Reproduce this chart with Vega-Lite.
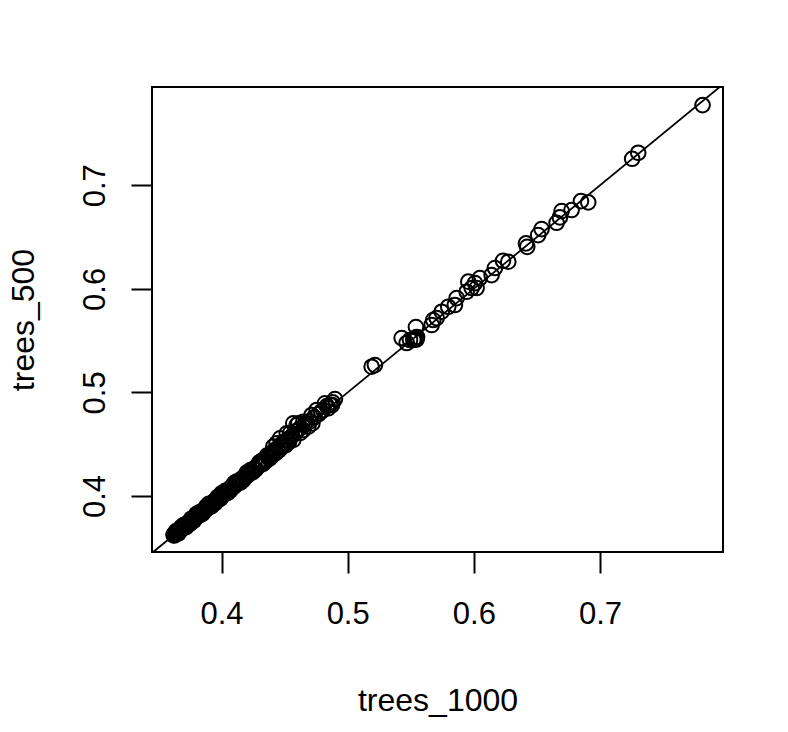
{
  "$schema": "https://vega.github.io/schema/vega-lite/v6.json",
  "width": 571,
  "height": 465,
  "autosize": {"type": "none"},
  "padding": {"left": 152, "top": 87, "right": 65, "bottom": 180},
  "background": "white",
  "config": {
    "view": {"stroke": "black", "strokeWidth": 2},
    "axis": {
      "domain": false, "grid": false,
      "tickColor": "black", "tickWidth": 2, "tickSize": 21,
      "labelFont": "Liberation Sans", "labelFontSize": 31, "labelColor": "black",
      "titleFont": "Liberation Sans", "titleFontSize": 32, "titleFontWeight": "normal", "titleColor": "black"
    }
  },
  "datasets": {
    "pts": [
      {"trees_1000": 0.3620, "trees_500": 0.3622},
      {"trees_1000": 0.3622, "trees_500": 0.3630},
      {"trees_1000": 0.3625, "trees_500": 0.3618},
      {"trees_1000": 0.3628, "trees_500": 0.3635},
      {"trees_1000": 0.3630, "trees_500": 0.3626},
      {"trees_1000": 0.3633, "trees_500": 0.3640},
      {"trees_1000": 0.3636, "trees_500": 0.3630},
      {"trees_1000": 0.3640, "trees_500": 0.3645},
      {"trees_1000": 0.3643, "trees_500": 0.3638},
      {"trees_1000": 0.3647, "trees_500": 0.3652},
      {"trees_1000": 0.3650, "trees_500": 0.3644},
      {"trees_1000": 0.3654, "trees_500": 0.3660},
      {"trees_1000": 0.3658, "trees_500": 0.3650},
      {"trees_1000": 0.3662, "trees_500": 0.3668},
      {"trees_1000": 0.3666, "trees_500": 0.3660},
      {"trees_1000": 0.3670, "trees_500": 0.3676},
      {"trees_1000": 0.3674, "trees_500": 0.3668},
      {"trees_1000": 0.3678, "trees_500": 0.3686},
      {"trees_1000": 0.3682, "trees_500": 0.3676},
      {"trees_1000": 0.3686, "trees_500": 0.3694},
      {"trees_1000": 0.3690, "trees_500": 0.3684},
      {"trees_1000": 0.3695, "trees_500": 0.3702},
      {"trees_1000": 0.3700, "trees_500": 0.3694},
      {"trees_1000": 0.3705, "trees_500": 0.3712},
      {"trees_1000": 0.3710, "trees_500": 0.3704},
      {"trees_1000": 0.3715, "trees_500": 0.3722},
      {"trees_1000": 0.3720, "trees_500": 0.3712},
      {"trees_1000": 0.3725, "trees_500": 0.3732},
      {"trees_1000": 0.3730, "trees_500": 0.3722},
      {"trees_1000": 0.3735, "trees_500": 0.3742},
      {"trees_1000": 0.3740, "trees_500": 0.3732},
      {"trees_1000": 0.3745, "trees_500": 0.3752},
      {"trees_1000": 0.3750, "trees_500": 0.3744},
      {"trees_1000": 0.3756, "trees_500": 0.3762},
      {"trees_1000": 0.3762, "trees_500": 0.3754},
      {"trees_1000": 0.3768, "trees_500": 0.3775},
      {"trees_1000": 0.3774, "trees_500": 0.3766},
      {"trees_1000": 0.3780, "trees_500": 0.3788},
      {"trees_1000": 0.3786, "trees_500": 0.3778},
      {"trees_1000": 0.3792, "trees_500": 0.3800},
      {"trees_1000": 0.3798, "trees_500": 0.3790},
      {"trees_1000": 0.3804, "trees_500": 0.3812},
      {"trees_1000": 0.3810, "trees_500": 0.3802},
      {"trees_1000": 0.3816, "trees_500": 0.3824},
      {"trees_1000": 0.3822, "trees_500": 0.3814},
      {"trees_1000": 0.3828, "trees_500": 0.3836},
      {"trees_1000": 0.3834, "trees_500": 0.3826},
      {"trees_1000": 0.3840, "trees_500": 0.3848},
      {"trees_1000": 0.3846, "trees_500": 0.3840},
      {"trees_1000": 0.3853, "trees_500": 0.3860},
      {"trees_1000": 0.3860, "trees_500": 0.3852},
      {"trees_1000": 0.3867, "trees_500": 0.3874},
      {"trees_1000": 0.3874, "trees_500": 0.3866},
      {"trees_1000": 0.3881, "trees_500": 0.3889},
      {"trees_1000": 0.3888, "trees_500": 0.3880},
      {"trees_1000": 0.3895, "trees_500": 0.3902},
      {"trees_1000": 0.3902, "trees_500": 0.3894},
      {"trees_1000": 0.3910, "trees_500": 0.3918},
      {"trees_1000": 0.3918, "trees_500": 0.3910},
      {"trees_1000": 0.3926, "trees_500": 0.3934},
      {"trees_1000": 0.3934, "trees_500": 0.3926},
      {"trees_1000": 0.3942, "trees_500": 0.3950},
      {"trees_1000": 0.3950, "trees_500": 0.3942},
      {"trees_1000": 0.3958, "trees_500": 0.3966},
      {"trees_1000": 0.3966, "trees_500": 0.3958},
      {"trees_1000": 0.3975, "trees_500": 0.3982},
      {"trees_1000": 0.3984, "trees_500": 0.3976},
      {"trees_1000": 0.3993, "trees_500": 0.4000},
      {"trees_1000": 0.4002, "trees_500": 0.3994},
      {"trees_1000": 0.4011, "trees_500": 0.4018},
      {"trees_1000": 0.4020, "trees_500": 0.4012},
      {"trees_1000": 0.4030, "trees_500": 0.4037},
      {"trees_1000": 0.4040, "trees_500": 0.4032},
      {"trees_1000": 0.4050, "trees_500": 0.4058},
      {"trees_1000": 0.4060, "trees_500": 0.4052},
      {"trees_1000": 0.4070, "trees_500": 0.4078},
      {"trees_1000": 0.4080, "trees_500": 0.4072},
      {"trees_1000": 0.4091, "trees_500": 0.4098},
      {"trees_1000": 0.4102, "trees_500": 0.4094},
      {"trees_1000": 0.4113, "trees_500": 0.4120},
      {"trees_1000": 0.4124, "trees_500": 0.4116},
      {"trees_1000": 0.4136, "trees_500": 0.4142},
      {"trees_1000": 0.4148, "trees_500": 0.4140},
      {"trees_1000": 0.4160, "trees_500": 0.4168},
      {"trees_1000": 0.4172, "trees_500": 0.4164},
      {"trees_1000": 0.4184, "trees_500": 0.4192},
      {"trees_1000": 0.4196, "trees_500": 0.4188},
      {"trees_1000": 0.4208, "trees_500": 0.4216},
      {"trees_1000": 0.4220, "trees_500": 0.4212},
      {"trees_1000": 0.4233, "trees_500": 0.4240},
      {"trees_1000": 0.4246, "trees_500": 0.4238},
      {"trees_1000": 0.4259, "trees_500": 0.4266},
      {"trees_1000": 0.4272, "trees_500": 0.4262},
      {"trees_1000": 0.4285, "trees_500": 0.4294},
      {"trees_1000": 0.4298, "trees_500": 0.4290},
      {"trees_1000": 0.4312, "trees_500": 0.4320},
      {"trees_1000": 0.4326, "trees_500": 0.4318},
      {"trees_1000": 0.4340, "trees_500": 0.4350},
      {"trees_1000": 0.4355, "trees_500": 0.4346},
      {"trees_1000": 0.4370, "trees_500": 0.4380},
      {"trees_1000": 0.4385, "trees_500": 0.4374},
      {"trees_1000": 0.4400, "trees_500": 0.4410},
      {"trees_1000": 0.4415, "trees_500": 0.4425},
      {"trees_1000": 0.3700, "trees_500": 0.3720},
      {"trees_1000": 0.3750, "trees_500": 0.3730},
      {"trees_1000": 0.3800, "trees_500": 0.3825},
      {"trees_1000": 0.3850, "trees_500": 0.3830},
      {"trees_1000": 0.3900, "trees_500": 0.3925},
      {"trees_1000": 0.3950, "trees_500": 0.3930},
      {"trees_1000": 0.4000, "trees_500": 0.4025},
      {"trees_1000": 0.4050, "trees_500": 0.4030},
      {"trees_1000": 0.4100, "trees_500": 0.4125},
      {"trees_1000": 0.4150, "trees_500": 0.4130},
      {"trees_1000": 0.4200, "trees_500": 0.4225},
      {"trees_1000": 0.4250, "trees_500": 0.4232},
      {"trees_1000": 0.4300, "trees_500": 0.4325},
      {"trees_1000": 0.4330, "trees_500": 0.4310},
      {"trees_1000": 0.4360, "trees_500": 0.4390},
      {"trees_1000": 0.4380, "trees_500": 0.4360},
      {"trees_1000": 0.3640, "trees_500": 0.3660},
      {"trees_1000": 0.3660, "trees_500": 0.3640},
      {"trees_1000": 0.3680, "trees_500": 0.3700},
      {"trees_1000": 0.3720, "trees_500": 0.3700},
      {"trees_1000": 0.3760, "trees_500": 0.3780},
      {"trees_1000": 0.3780, "trees_500": 0.3760},
      {"trees_1000": 0.3820, "trees_500": 0.3840},
      {"trees_1000": 0.3840, "trees_500": 0.3822},
      {"trees_1000": 0.3880, "trees_500": 0.3900},
      {"trees_1000": 0.3920, "trees_500": 0.3900},
      {"trees_1000": 0.3970, "trees_500": 0.3990},
      {"trees_1000": 0.3990, "trees_500": 0.3972},
      {"trees_1000": 0.4030, "trees_500": 0.4050},
      {"trees_1000": 0.4070, "trees_500": 0.4055},
      {"trees_1000": 0.4120, "trees_500": 0.4140},
      {"trees_1000": 0.4170, "trees_500": 0.4150},
      {"trees_1000": 0.4230, "trees_500": 0.4250},
      {"trees_1000": 0.4270, "trees_500": 0.4255},
      {"trees_1000": 0.4320, "trees_500": 0.4340},
      {"trees_1000": 0.4350, "trees_500": 0.4335},
      {"trees_1000": 0.4395, "trees_500": 0.4380},
      {"trees_1000": 0.4405, "trees_500": 0.4425},
      {"trees_1000": 0.4420, "trees_500": 0.4440},
      {"trees_1000": 0.4430, "trees_500": 0.4415},
      {"trees_1000": 0.4445, "trees_500": 0.4460},
      {"trees_1000": 0.4455, "trees_500": 0.4440},
      {"trees_1000": 0.4470, "trees_500": 0.4490},
      {"trees_1000": 0.4480, "trees_500": 0.4475},
      {"trees_1000": 0.4490, "trees_500": 0.4520},
      {"trees_1000": 0.4510, "trees_500": 0.4490},
      {"trees_1000": 0.4525, "trees_500": 0.4545},
      {"trees_1000": 0.4535, "trees_500": 0.4520},
      {"trees_1000": 0.4560, "trees_500": 0.4580},
      {"trees_1000": 0.4580, "trees_500": 0.4600},
      {"trees_1000": 0.4590, "trees_500": 0.4625},
      {"trees_1000": 0.4620, "trees_500": 0.4650},
      {"trees_1000": 0.4625, "trees_500": 0.4610},
      {"trees_1000": 0.4660, "trees_500": 0.4690},
      {"trees_1000": 0.4670, "trees_500": 0.4705},
      {"trees_1000": 0.4700, "trees_500": 0.4720},
      {"trees_1000": 0.4720, "trees_500": 0.4700},
      {"trees_1000": 0.4735, "trees_500": 0.4760},
      {"trees_1000": 0.4770, "trees_500": 0.4790},
      {"trees_1000": 0.4790, "trees_500": 0.4815},
      {"trees_1000": 0.4805, "trees_500": 0.4830},
      {"trees_1000": 0.4860, "trees_500": 0.4880},
      {"trees_1000": 0.4880, "trees_500": 0.4905},
      {"trees_1000": 0.4410, "trees_500": 0.4476},
      {"trees_1000": 0.4437, "trees_500": 0.4509},
      {"trees_1000": 0.4464, "trees_500": 0.4557},
      {"trees_1000": 0.4503, "trees_500": 0.4509},
      {"trees_1000": 0.4517, "trees_500": 0.4605},
      {"trees_1000": 0.4543, "trees_500": 0.4557},
      {"trees_1000": 0.4569, "trees_500": 0.4541},
      {"trees_1000": 0.4543, "trees_500": 0.4605},
      {"trees_1000": 0.4596, "trees_500": 0.4685},
      {"trees_1000": 0.4569, "trees_500": 0.4702},
      {"trees_1000": 0.4609, "trees_500": 0.4702},
      {"trees_1000": 0.4648, "trees_500": 0.4717},
      {"trees_1000": 0.4648, "trees_500": 0.4637},
      {"trees_1000": 0.4688, "trees_500": 0.4669},
      {"trees_1000": 0.4715, "trees_500": 0.4782},
      {"trees_1000": 0.4754, "trees_500": 0.4830},
      {"trees_1000": 0.4820, "trees_500": 0.4895},
      {"trees_1000": 0.4846, "trees_500": 0.4847},
      {"trees_1000": 0.4836, "trees_500": 0.4869},
      {"trees_1000": 0.4876, "trees_500": 0.4878},
      {"trees_1000": 0.4899, "trees_500": 0.4936},
      {"trees_1000": 0.5190, "trees_500": 0.5248},
      {"trees_1000": 0.5216, "trees_500": 0.5264},
      {"trees_1000": 0.5428, "trees_500": 0.5525},
      {"trees_1000": 0.5468, "trees_500": 0.5477},
      {"trees_1000": 0.5494, "trees_500": 0.5506},
      {"trees_1000": 0.5520, "trees_500": 0.5506},
      {"trees_1000": 0.5528, "trees_500": 0.5515},
      {"trees_1000": 0.5535, "trees_500": 0.5520},
      {"trees_1000": 0.5540, "trees_500": 0.5530},
      {"trees_1000": 0.5545, "trees_500": 0.5510},
      {"trees_1000": 0.5547, "trees_500": 0.5525},
      {"trees_1000": 0.5550, "trees_500": 0.5535},
      {"trees_1000": 0.5541, "trees_500": 0.5631},
      {"trees_1000": 0.5666, "trees_500": 0.5651},
      {"trees_1000": 0.5678, "trees_500": 0.5699},
      {"trees_1000": 0.5705, "trees_500": 0.5718},
      {"trees_1000": 0.5745, "trees_500": 0.5779},
      {"trees_1000": 0.5797, "trees_500": 0.5827},
      {"trees_1000": 0.5850, "trees_500": 0.5844},
      {"trees_1000": 0.5864, "trees_500": 0.5911},
      {"trees_1000": 0.5943, "trees_500": 0.5972},
      {"trees_1000": 0.5956, "trees_500": 0.6069},
      {"trees_1000": 0.5983, "trees_500": 0.6008},
      {"trees_1000": 0.6022, "trees_500": 0.6008},
      {"trees_1000": 0.6009, "trees_500": 0.6056},
      {"trees_1000": 0.6048, "trees_500": 0.6104},
      {"trees_1000": 0.6141, "trees_500": 0.6133},
      {"trees_1000": 0.6167, "trees_500": 0.6201},
      {"trees_1000": 0.6231, "trees_500": 0.6271},
      {"trees_1000": 0.6273, "trees_500": 0.6262},
      {"trees_1000": 0.6423, "trees_500": 0.6406},
      {"trees_1000": 0.6413, "trees_500": 0.6439},
      {"trees_1000": 0.6510, "trees_500": 0.6519},
      {"trees_1000": 0.6537, "trees_500": 0.6577},
      {"trees_1000": 0.6656, "trees_500": 0.6638},
      {"trees_1000": 0.6682, "trees_500": 0.6690},
      {"trees_1000": 0.6696, "trees_500": 0.6751},
      {"trees_1000": 0.6775, "trees_500": 0.6761},
      {"trees_1000": 0.6849, "trees_500": 0.6847},
      {"trees_1000": 0.6907, "trees_500": 0.6835},
      {"trees_1000": 0.7255, "trees_500": 0.7256},
      {"trees_1000": 0.7303, "trees_500": 0.7314},
      {"trees_1000": 0.7813, "trees_500": 0.7774}
    ],
    "diag": [
      {"trees_1000": 0.30, "trees_500": 0.30},
      {"trees_1000": 0.85, "trees_500": 0.85}
    ]
  },
  "layer": [
    {
      "data": {"name": "pts"},
      "mark": {"type": "point", "shape": "circle", "filled": false, "color": "black", "strokeWidth": 2, "opacity": 1, "size": 215},
      "encoding": {
        "x": {
          "field": "trees_1000", "type": "quantitative",
          "scale": {"domain": [0.3449, 0.7975], "nice": false, "zero": false},
          "axis": {"values": [0.4, 0.5, 0.6, 0.7], "format": ".1f", "labelPadding": 26.5, "labelFlush": false, "labelOverlap": false, "titleY": 158, "titleBaseline": "alphabetic"}
        },
        "y": {
          "field": "trees_500", "type": "quantitative",
          "scale": {"domain": [0.3459, 0.7949], "nice": false, "zero": false},
          "axis": {"values": [0.4, 0.5, 0.6, 0.7], "format": ".1f", "labelAngle": -90, "labelAlign": "center", "labelBaseline": "alphabetic", "labelPadding": 27, "labelFlush": false, "labelOverlap": false, "titleX": -119, "titleY": 232.5, "titleAngle": -90, "titleAlign": "center", "titleBaseline": "alphabetic"}
        }
      }
    },
    {
      "data": {"name": "diag"},
      "mark": {"type": "line", "color": "black", "strokeWidth": 1.8, "clip": true},
      "encoding": {
        "x": {"field": "trees_1000", "type": "quantitative"},
        "y": {"field": "trees_500", "type": "quantitative"}
      }
    }
  ]
}
